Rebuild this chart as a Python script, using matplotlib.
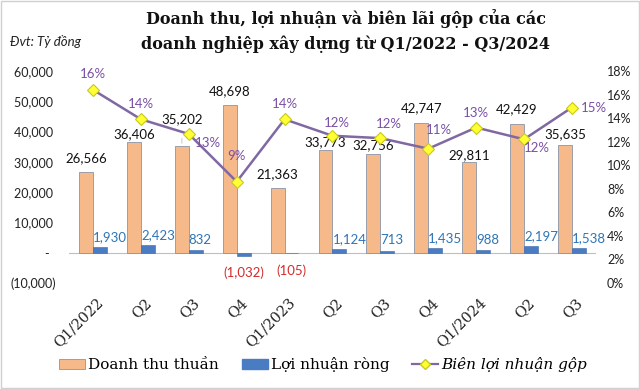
import matplotlib
matplotlib.use('Agg')
import matplotlib.pyplot as plt
import matplotlib.transforms as mtransforms
from matplotlib.lines import Line2D
from matplotlib.patches import Patch, Rectangle
import numpy as np

# Data (ty dong)
quarters = ['Q1/2022', 'Q2', 'Q3', 'Q4', 'Q1/2023', 'Q2', 'Q3', 'Q4', 'Q1/2024', 'Q2', 'Q3']
revenue = [26566, 36406, 35202, 48698, 21363, 33773, 32756, 42747, 29811, 42429, 35635]
net_profit = [1930, 2423, 832, -1032, -105, 1124, 713, 1435, 988, 2197, 1538]
gross_margin = [16.4, 13.9, 12.65, 8.6, 13.9, 12.5, 12.3, 11.4, 13.2, 12.2, 14.9]
margin_labels = ['16%', '14%', '13%', '9%', '14%', '12%', '12%', '11%', '13%', '12%', '15%']

# layout only: label offsets in points
rev_offsets = [6, 2, 15, 6, 6, 1.5, 2, 6.5, 1, 6.5, 3.5]
margin_offsets = [(0, 7), (0, 7), (14, -2), (0, 14), (0, 7), (3, 5), (6, 6), (8, 9), (0, 6), (9, -2), (16, 0)]

ORANGE = '#F6B98A'
BLUE = '#4A7CC4'
PURPLE_LINE = '#8068A2'
PURPLE_TXT = '#7A4FA6'
SANS = 'Lato'
SERIF = 'DejaVu Serif'

fig = plt.figure(figsize=(6.4, 3.89), dpi=100)
fig.patches.append(Rectangle((0.002, 0.002), 0.996, 0.996, transform=fig.transFigure,
                             fill=False, edgecolor='#D0D0D0', linewidth=1))
ax = fig.add_axes([0.108, 0.2725, 0.823, 0.545])
ax2 = ax.twinx()

x = np.arange(len(quarters))
w = 0.29
ax.bar(x - w / 2, revenue, w, color=ORANGE, edgecolor='#8A94A8', linewidth=0.6, zorder=2)
ax.bar(x + w / 2, net_profit, w, color=BLUE, edgecolor='#3A66A8', linewidth=0.4, zorder=2)
ax.axhline(0, color='#BFBFBF', linewidth=0.8, zorder=1)

ax.set_xlim(-0.5, len(quarters) - 0.5)
ax.set_ylim(-10000, 60000)
ax.set_yticks(range(-10000, 60001, 10000))
ylabels = []
for v in range(-10000, 60001, 10000):
    if v < 0:
        ylabels.append('({:,})'.format(-v))
    elif v == 0:
        ylabels.append('-  ')
    else:
        ylabels.append('{:,} '.format(v))
ax.set_yticklabels(ylabels, fontsize=9, family=SANS, color='#222222')
ax.tick_params(axis='y', length=0, pad=9)

ax.set_xticks(x)
ax.set_xticklabels(quarters, rotation=45, ha='right', rotation_mode='anchor',
                   fontsize=10.5, family=SERIF, color='#222222')
ax.tick_params(axis='x', length=0, pad=9)
shift = mtransforms.ScaledTranslation(3 / 100, 0, fig.dpi_scale_trans)
for lab in ax.get_xticklabels():
    lab.set_transform(lab.get_transform() + shift)

for s in ax.spines.values():
    s.set_visible(False)
for s in ax2.spines.values():
    s.set_visible(False)

# revenue labels
for i, v in enumerate(revenue):
    ax.annotate('{:,}'.format(v), (x[i] - w / 2, v), xytext=(0, rev_offsets[i]),
                textcoords='offset points', ha='center', va='bottom',
                fontsize=9.5, family=SANS, color='#111111', zorder=5)
ax.annotate('', (x[2] - w / 2, revenue[2]), xytext=(x[2] - w / 2, revenue[2] + 3500),
            arrowprops=dict(arrowstyle='-', color='#BBBBBB', lw=0.6))

# profit labels
for i, v in enumerate(net_profit):
    if v >= 0:
        ax.annotate('{:,}'.format(v), (x[i], v), xytext=(0, 3), textcoords='offset points',
                    ha='left', va='bottom', fontsize=9.5, family=SANS, color='#2E75B6', zorder=5)
    else:
        ax.annotate('({:,})'.format(-v), (x[i] + w / 2, v), xytext=(0, -8),
                    textcoords='offset points', ha='center', va='top',
                    fontsize=9.5, family=SANS, color='#D42A2A', zorder=5)

# gross margin line
ax2.plot(x, gross_margin, color=PURPLE_LINE, linewidth=1.8, zorder=3,
         marker='D', markersize=6, markerfacecolor='#FFFF33', markeredgecolor='#C8C820',
         markeredgewidth=0.8)
ax2.set_ylim(0, 18)
ax2.set_yticks(range(0, 19, 2))
ax2.set_yticklabels(['{}%'.format(t) for t in range(0, 19, 2)], fontsize=9,
                    family=SANS, color='#222222')
ax2.tick_params(axis='y', length=0, pad=8)
for i, v in enumerate(gross_margin):
    dx, dy = margin_offsets[i]
    ax2.annotate(margin_labels[i], (x[i], v), xytext=(dx, dy), textcoords='offset points',
                 ha='center', va='bottom' if dy > 0 else ('top' if dy < 0 else 'center'),
                 fontsize=9.5, family=SANS, color=PURPLE_TXT, zorder=5)

# titles
fig.text(0.54, 0.952, 'Doanh thu, lợi nhuận và biên lãi gộp của các', ha='center', va='center',
         fontsize=11.5, family=SERIF, fontweight='bold', color='#111111')
fig.text(0.54, 0.887, 'doanh nghiệp xây dựng từ Q1/2022 - Q3/2024', ha='center', va='center',
         fontsize=11.5, family=SERIF, fontweight='bold', color='#111111')
fig.text(0.016, 0.893, 'Đvt: Tỷ đồng', ha='left', va='center', fontsize=9.5,
         family=SANS, style='italic', color='#222222')

# legend
handles = [Patch(facecolor=ORANGE, edgecolor='#8A94A8', linewidth=0.6),
           Patch(facecolor=BLUE, edgecolor=BLUE),
           Line2D([0], [0], color=PURPLE_LINE, linewidth=1.6, marker='D', markersize=5,
                  markerfacecolor='#FFFF33', markeredgecolor='#C8C820')]
leg = fig.legend(handles, ['Doanh thu thuần', 'Lợi nhuận ròng', 'Biên lợi nhuận gộp'],
                 loc='center', bbox_to_anchor=(0.505, 0.062), ncol=3, frameon=False,
                 prop={'family': SERIF, 'size': 11}, handlelength=1.7, handletextpad=0.2,
                 columnspacing=1.5)
leg.get_texts()[2].set_style('italic')

fig.savefig('out.png', dpi=100)
